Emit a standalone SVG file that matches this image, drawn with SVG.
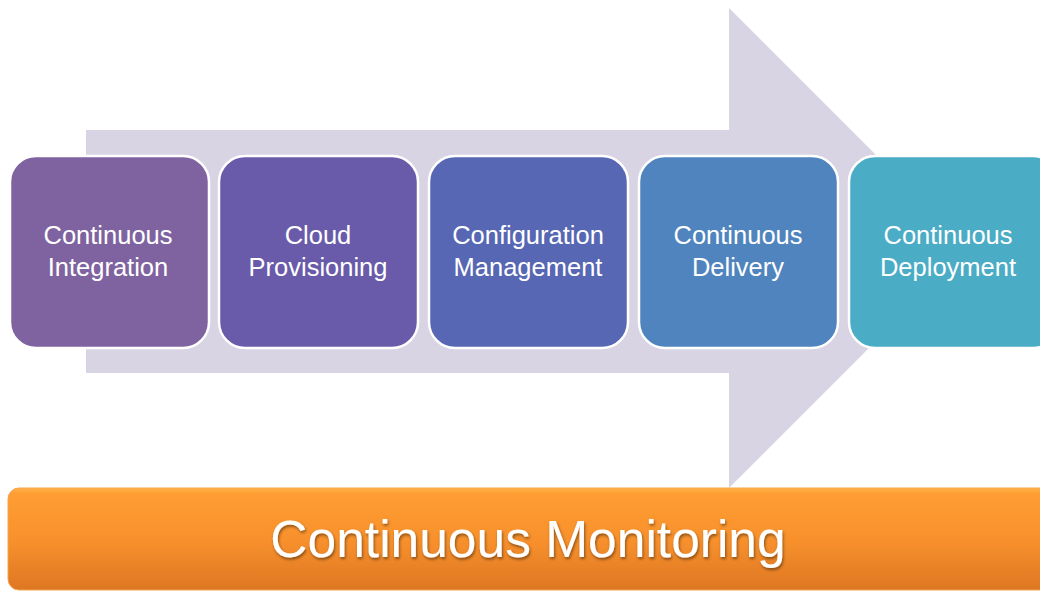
<svg xmlns="http://www.w3.org/2000/svg" width="1040" height="593" viewBox="0 0 1040 593">
<defs>
<linearGradient id="og" x1="0" y1="0" x2="0" y2="1">
<stop offset="0" stop-color="#FFB347"/>
<stop offset="0.06" stop-color="#FF9D33"/>
<stop offset="0.5" stop-color="#F8912C"/>
<stop offset="1" stop-color="#DE7722"/>
</linearGradient>
<filter id="sh" x="-10%" y="-30%" width="120%" height="160%">
<feDropShadow dx="1" dy="2" stdDeviation="1.5" flood-color="#000" flood-opacity="0.45"/>
</filter>
</defs>
<style>
.box{stroke:#fff;stroke-width:2.5}
.lbl{font-family:"Liberation Sans",Arial,sans-serif;font-size:25.5px;fill:#fff;text-anchor:middle}
.big{font-family:"Liberation Sans",Arial,sans-serif;font-size:51.5px;fill:#fff;text-anchor:middle}
</style>
<rect width="1040" height="593" fill="#fff"/>
<g id="arrow">
<polygon points="86,130 729,130 729,8 969,248 729,488 729,373 86,373" fill="#D8D4E3"/>
</g>
<g id="connectors"></g>
<g id="n1"><rect class="box" x="10" y="156" width="199" height="192" rx="26" fill="#7F63A0"/>
<text class="lbl" x="108" y="244">Continuous</text><text class="lbl" x="108" y="276">Integration</text></g>
<g id="n2"><rect class="box" x="219" y="156" width="199" height="192" rx="26" fill="#695BA9"/>
<text class="lbl" x="318" y="244">Cloud</text><text class="lbl" x="318" y="276">Provisioning</text></g>
<g id="n3"><rect class="box" x="429" y="156" width="199" height="192" rx="26" fill="#5767B3"/>
<text class="lbl" x="528" y="244">Configuration</text><text class="lbl" x="528" y="276">Management</text></g>
<g id="n4"><rect class="box" x="639" y="156" width="199" height="192" rx="26" fill="#4F84BE"/>
<text class="lbl" x="738" y="244">Continuous</text><text class="lbl" x="738" y="276">Delivery</text></g>
<g id="n5"><rect class="box" x="849" y="156" width="210" height="192" rx="26" fill="#4BACC6"/>
<text class="lbl" x="948" y="244">Continuous</text><text class="lbl" x="948" y="276">Deployment</text></g>
<g id="monitoring">
<rect x="8" y="488" width="1050" height="102" rx="11" fill="url(#og)" stroke="#F4A450" stroke-width="1"/>
<text class="big" x="528" y="557" filter="url(#sh)">Continuous Monitoring</text>
</g>
</svg>
